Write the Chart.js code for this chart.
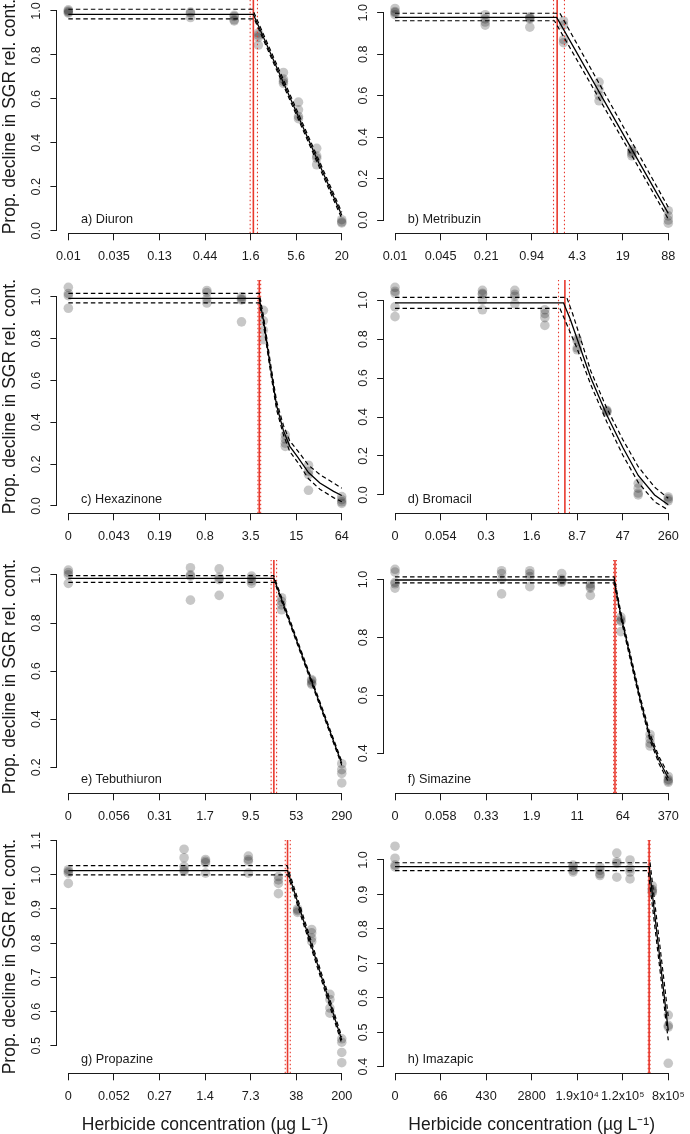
<!DOCTYPE html>
<html><head><meta charset="utf-8">
<script src="https://cdn.jsdelivr.net/npm/chart.js@4/dist/chart.umd.min.js"></script>
<style>
html,body{margin:0;padding:0;background:#fff;}
body{position:relative;width:690px;height:1134px;overflow:hidden;font-family:"Liberation Sans",Arial,Helvetica,sans-serif;}
canvas{position:absolute;}
.lab{position:absolute;font-size:12.7px;color:#1a1a1a;line-height:16px;white-space:nowrap;transform:translateY(-50%);}
</style></head><body>
<script>
// ---------- a) Diuron ----------
const diuronTicks = ['0.01','0.035','0.13','0.44','1.6','5.6','20'];
const diuronDose = [0, 2.68, 3.64, 4.17, 4.72, 5.05, 5.45, 6];
const diuronResp = [[1.005,1.0,0.995,0.99],[0.995,0.99,0.97],[0.98,0.975,0.96,0.955],[0.90,0.89,0.88,0.845],[0.72,0.69,0.68,0.67],[0.585,0.55,0.52,0.51],[0.375,0.34,0.33,0.30],[0.05,0.04,0.035]];
const diuronFitX = [0, 4.06, 6];  const diuronFitY = [0.985, 0.985, 0.07];
const diuronUpX = [0, 4.04, 6];   const diuronUpY = [1.008, 1.008, 0.084];
const diuronLoX = [0, 4.08, 6];   const diuronLoY = [0.964, 0.964, 0.056];
const diuronEC = [4.06, 3.99, 4.15];
const diuronYTicks = [0, 0.2, 0.4, 0.6, 0.8, 1.0];

// ---------- b) Metribuzin ----------
const metribuzinTicks = ['0.01','0.045','0.21','0.94','4.3','19','88'];
const metribuzinDose = [0, 1.98, 2.96, 3.7, 4.48, 5.2, 6];
const metribuzinResp = [[1.02,1.005,1.0,0.99],[0.99,0.97,0.955,0.94],[0.98,0.975,0.97,0.93],[0.96,0.94,0.87,0.855],[0.665,0.63,0.6,0.575],[0.34,0.33,0.32,0.31],[0.045,0.02,0.0,-0.015]];
const metribuzinFitX = [0, 3.55, 6]; const metribuzinFitY = [0.977, 0.977, 0.032];
const metribuzinUpX = [0, 3.62, 6];  const metribuzinUpY = [0.997, 0.997, 0.062];
const metribuzinLoX = [0, 3.5, 6];   const metribuzinLoY = [0.961, 0.961, 0.005];
const metribuzinEC = [3.56, 3.48, 3.72];
const metribuzinYTicks = [0, 0.2, 0.4, 0.6, 0.8, 1.0];

// ---------- c) Hexazinone ----------
const hexazinoneTicks = ['0','0.043','0.19','0.8','3.5','15','64'];
const hexazinoneDose = [0, 3.04, 3.8, 4.28, 4.76, 5.27, 6];
const hexazinoneResp = [[1.045,1.015,1.005,0.945],[1.03,1.02,0.99,0.97],[1.0,0.99,0.985,0.88],[0.935,0.885,0.84,0.795],[0.34,0.32,0.3,0.285],[0.195,0.165,0.15,0.075],[0.045,0.03,0.02,0.012]];
const hexazinoneFitX = [0, 4.19, 4.28, 4.43, 4.57, 4.72, 4.86, 5.03, 5.27, 5.52, 5.82, 6];
const hexazinoneFitY = [0.992, 0.992, 0.89, 0.67, 0.48, 0.36, 0.285, 0.235, 0.16, 0.11, 0.07, 0.05];
const hexazinoneUpX = hexazinoneFitX;
const hexazinoneUpY = [1.016, 1.016, 0.91, 0.69, 0.50, 0.385, 0.31, 0.265, 0.195, 0.15, 0.11, 0.085];
const hexazinoneLoX = hexazinoneFitX;
const hexazinoneLoY = [0.971, 0.971, 0.87, 0.65, 0.46, 0.34, 0.26, 0.21, 0.13, 0.08, 0.04, 0.02];
const hexazinoneEC = [4.19, 4.16, 4.22];
const hexazinoneYTicks = [0, 0.2, 0.4, 0.6, 0.8, 1.0];

// ---------- d) Bromacil ----------
const bromacilTicks = ['0','0.054','0.3','1.6','8.7','47','260'];
const bromacilDose = [0, 1.92, 2.63, 3.29, 4.0, 4.65, 5.34, 6];
const bromacilResp = [[1.065,1.045,1.035,0.965,0.915],[1.05,1.035,1.03,1.0,0.95],[1.05,1.03,1.02,0.98],[0.95,0.93,0.91,0.87],[0.8,0.79,0.755,0.745],[0.435,0.43,0.425],[0.06,0.035,0.01,0.0],[-0.01,-0.02,-0.03]];
const bromacilFitX = [0, 3.7, 3.85, 4.03, 4.3, 4.65, 5.0, 5.34, 5.7, 6];
const bromacilFitY = [0.986, 0.986, 0.9, 0.78, 0.6, 0.41, 0.245, 0.1, 0.0, -0.05];
const bromacilUpX = [0, 3.77, 3.9, 4.05, 4.3, 4.65, 5.0, 5.34, 5.7, 6];
const bromacilUpY = [1.014, 1.014, 0.93, 0.82, 0.635, 0.445, 0.285, 0.145, 0.04, -0.017];
const bromacilLoX = [0, 3.62, 3.8, 4.0, 4.3, 4.65, 5.0, 5.34, 5.7, 6];
const bromacilLoY = [0.957, 0.957, 0.86, 0.75, 0.565, 0.375, 0.205, 0.065, -0.035, -0.077];
const bromacilEC = [3.73, 3.59, 3.83];
const bromacilYTicks = [0, 0.2, 0.4, 0.6, 0.8, 1.0];

// ---------- e) Tebuthiuron ----------
const tebuthiuronTicks = ['0','0.056','0.31','1.7','9.5','53','290'];
const tebuthiuronDose = [0, 2.68, 3.31, 4.02, 4.68, 5.34, 6];
const tebuthiuronResp = [[1.02,1.01,1.0,0.965],[1.03,1.0,0.995,0.895],[1.025,0.99,0.98,0.915],[0.995,0.985,0.975,0.965],[0.905,0.89,0.875,0.855],[0.565,0.56,0.55,0.545],[0.215,0.19,0.175,0.135]];
const tebuthiuronFitX = [0, 4.51, 6]; const tebuthiuronFitY = [0.986, 0.986, 0.216];
const tebuthiuronUpX = [0, 4.505, 6]; const tebuthiuronUpY = [0.997, 0.997, 0.224];
const tebuthiuronLoX = [0, 4.527, 6]; const tebuthiuronLoY = [0.969, 0.969, 0.208];
const tebuthiuronEC = [4.51, 4.45, 4.57];
const tebuthiuronYTicks = [0.2, 0.4, 0.6, 0.8, 1.0];

// ---------- f) Simazine ----------
const simazineTicks = ['0','0.058','0.33','1.9','11','64','370'];
const simazineDose = [0, 2.34, 2.96, 3.66, 4.29, 4.96, 5.6, 6];
const simazineResp = [[1.035,1.025,0.99,0.985,0.97],[1.03,1.02,1.0,0.95],[1.03,1.02,1.01,0.975],[1.02,1.0,0.995,0.99],[0.985,0.975,0.97,0.945],[0.87,0.86,0.855,0.82],[0.465,0.45,0.435,0.425],[0.32,0.31,0.305,0.3]];
const simazineFitX = [0, 4.81, 4.96, 5.2, 5.4, 5.6, 5.8, 6];
const simazineFitY = [0.998, 0.998, 0.875, 0.71, 0.575, 0.455, 0.375, 0.315];
const simazineUpX = simazineFitX;
const simazineUpY = [1.009, 1.009, 0.885, 0.72, 0.585, 0.466, 0.387, 0.328];
const simazineLoX = simazineFitX;
const simazineLoY = [0.988, 0.988, 0.865, 0.70, 0.565, 0.444, 0.363, 0.302];
const simazineEC = [4.83, 4.80, 4.86];
const simazineYTicks = [0.4, 0.6, 0.8, 1.0];

// ---------- g) Propazine ----------
const propazineTicks = ['0','0.052','0.27','1.4','7.3','38','200'];
const propazineDose = [0, 2.54, 3.01, 3.95, 4.61, 5.03, 5.34, 5.74, 6];
const propazineResp = [[1.015,1.01,1.005,0.975],[1.075,1.05,1.025,1.015,1.01],[1.045,1.04,1.035,1.005],[1.055,1.045,1.04,1.005],[0.995,0.985,0.975,0.945],[0.9,0.895,0.89],[0.84,0.83,0.815,0.805],[0.65,0.635,0.61,0.595],[0.52,0.51,0.48,0.45]];
const propazineFitX = [0, 4.81, 6]; const propazineFitY = [1.0126, 1.0126, 0.516];
const propazineUpX = [0, 4.80, 6];  const propazineUpY = [1.027, 1.027, 0.526];
const propazineLoX = [0, 4.816, 6]; const propazineLoY = [1.0, 1.0, 0.506];
const propazineEC = [4.81, 4.76, 4.87];
const propazineYTicks = [0.5, 0.6, 0.7, 0.8, 0.9, 1.0, 1.1];

// ---------- h) Imazapic ----------
const imazapicTicks = ['0','66','430','2800','1.9x10\u2074','1.2x10\u2075','8x10\u2075'];
const imazapicDose = [0, 3.91, 4.5, 4.87, 5.16, 5.65, 6];
const imazapicResp = [[1.04,1.005,0.985,0.98],[0.985,0.98,0.97,0.965],[0.98,0.97,0.96,0.955],[1.02,0.995,0.99,0.95],[1.0,0.975,0.965,0.945],[0.925,0.915,0.91,0.905],[0.55,0.52,0.515,0.41]];
const imazapicFitX = [0, 5.58, 6]; const imazapicFitY = [0.981, 0.981, 0.505];
const imazapicUpX = [0, 5.6, 6];   const imazapicUpY = [0.992, 0.992, 0.545];
const imazapicLoX = [0, 5.56, 6];  const imazapicLoY = [0.969, 0.969, 0.477];
const imazapicEC = [5.58, 5.56, 5.60];
const imazapicYTicks = [0.4, 0.5, 0.6, 0.7, 0.8, 0.9, 1.0];

// y-axis range of each plot region (R style, data range + 4%)
const yRanges = [[-0.012,1.05],[-0.064,1.061],[-0.035,1.080],[-0.094,1.103],[0.092,1.062],[0.262,1.067],[0.419,1.102],[0.381,1.058]];
const panelNames = ['a) Diuron','b) Metribuzin','c) Hexazinone','d) Bromacil','e) Tebuthiuron','f) Simazine','g) Propazine','h) Imazapic'];
const yTitle = 'Prop. decline in SGR rel. cont.';
const xTitle = 'Herbicide concentration (\u00B5g L\u207B\u00B9)';

const panels = [
  [diuronTicks, diuronDose, diuronResp, diuronFitX, diuronFitY, diuronUpX, diuronUpY, diuronLoX, diuronLoY, diuronEC, diuronYTicks],
  [metribuzinTicks, metribuzinDose, metribuzinResp, metribuzinFitX, metribuzinFitY, metribuzinUpX, metribuzinUpY, metribuzinLoX, metribuzinLoY, metribuzinEC, metribuzinYTicks],
  [hexazinoneTicks, hexazinoneDose, hexazinoneResp, hexazinoneFitX, hexazinoneFitY, hexazinoneUpX, hexazinoneUpY, hexazinoneLoX, hexazinoneLoY, hexazinoneEC, hexazinoneYTicks],
  [bromacilTicks, bromacilDose, bromacilResp, bromacilFitX, bromacilFitY, bromacilUpX, bromacilUpY, bromacilLoX, bromacilLoY, bromacilEC, bromacilYTicks],
  [tebuthiuronTicks, tebuthiuronDose, tebuthiuronResp, tebuthiuronFitX, tebuthiuronFitY, tebuthiuronUpX, tebuthiuronUpY, tebuthiuronLoX, tebuthiuronLoY, tebuthiuronEC, tebuthiuronYTicks],
  [simazineTicks, simazineDose, simazineResp, simazineFitX, simazineFitY, simazineUpX, simazineUpY, simazineLoX, simazineLoY, simazineEC, simazineYTicks],
  [propazineTicks, propazineDose, propazineResp, propazineFitX, propazineFitY, propazineUpX, propazineUpY, propazineLoX, propazineLoY, propazineEC, propazineYTicks],
  [imazapicTicks, imazapicDose, imazapicResp, imazapicFitX, imazapicFitY, imazapicUpX, imazapicUpY, imazapicLoX, imazapicLoY, imazapicEC, imazapicYTicks]
];

const FONT = '"Liberation Sans", Arial, Helvetica, sans-serif';
const INK = '#1a1a1a';
const RED = '#e8392d';

function pts(dose, resp) { const out = []; dose.forEach((x, i) => resp[i].forEach(y => out.push({x, y}))); return out; }
function line(xs, ys) { return xs.map((x, i) => ({x, y: ys[i]})); }
function al(v) { return Math.round(v - 0.5) + 0.5; }

const axisLines = {
  id: 'axisLines',
  afterDraw(chart) {
    const {ctx, chartArea, scales: {x, y}} = chart;
    const xt = x.ticks, yt = y.ticks;
    ctx.save();
    ctx.strokeStyle = INK; ctx.lineWidth = 1;
    ctx.beginPath();
    const by = Math.round(chartArea.bottom) + 0.5;
    ctx.moveTo(al(x.getPixelForValue(xt[0].value)), by);
    ctx.lineTo(al(x.getPixelForValue(xt[xt.length - 1].value)), by);
    const lx = Math.round(chartArea.left) - 0.5;
    ctx.moveTo(lx, al(y.getPixelForValue(yt[0].value)));
    ctx.lineTo(lx, al(y.getPixelForValue(yt[yt.length - 1].value)));
    ctx.stroke();
    ctx.restore();
  }
};

panels.forEach((p, idx) => {
  const [xTicks, dose, resp, fitX, fitY, upX, upY, loX, loY, ec, yTicks] = p;
  const yr = yRanges[idx];
  const col = idx % 2, row = Math.floor(idx / 2);
  const canvasLeft = col ? 345 : 0, canvasW = 360;
  const rowTop = row * 280, canvasTop = rowTop - 10, canvasH = 310;
  const plotLeft = col ? 384.1 : 57.4, plotRight = col ? 679.2 : 352.7;
  const plotTop = rowTop, plotBottom = rowTop + 233.3;
  const xH = row === 3 ? 62.2 : 40;

  const cv = document.createElement('canvas');
  cv.width = canvasW; cv.height = canvasH;
  cv.style.left = canvasLeft + 'px'; cv.style.top = canvasTop + 'px';
  cv.style.width = canvasW + 'px'; cv.style.height = canvasH + 'px';
  document.body.appendChild(cv);

  const lab = document.createElement('div');
  lab.className = 'lab';
  lab.textContent = panelNames[idx];
  lab.style.left = (col ? 407.7 : 81) + 'px';
  lab.style.top = (rowTop + 219) + 'px';
  document.body.appendChild(lab);

  const vline = (xv) => [{x: xv, y: yr[0]}, {x: xv, y: yr[1]}];
  const datasets = [
    {data: line(fitX, fitY), showLine: true, borderColor: '#000', borderWidth: 1.3, pointRadius: 0, order: 1, clip: false},
    {data: line(upX, upY), showLine: true, borderColor: '#000', borderWidth: 1.2, borderDash: [4.5, 3], pointRadius: 0, order: 1, clip: false},
    {data: line(loX, loY), showLine: true, borderColor: '#000', borderWidth: 1.2, borderDash: [4.5, 3], pointRadius: 0, order: 1, clip: false},
    {data: vline(ec[0]), showLine: true, borderColor: RED, borderWidth: 1.6, pointRadius: 0, order: 2},
    {data: vline(ec[1]), showLine: true, borderColor: RED, borderWidth: 1.1, borderDash: [1.5, 2.5], pointRadius: 0, order: 2},
    {data: vline(ec[2]), showLine: true, borderColor: RED, borderWidth: 1.1, borderDash: [1.5, 2.5], pointRadius: 0, order: 2},
    {data: pts(dose, resp), backgroundColor: 'rgba(0,0,0,0.22)', borderWidth: 0, pointRadius: 4.8, order: 3, clip: false}
  ];

  new Chart(cv, {
    type: 'scatter',
    data: {datasets},
    options: {
      responsive: false, animation: false, devicePixelRatio: 1, events: [],
      layout: {padding: {left: 0, top: plotTop - canvasTop, right: canvasLeft + canvasW - plotRight, bottom: canvasTop + canvasH - plotBottom - xH}},
      plugins: {legend: {display: false}, tooltip: {enabled: false}},
      scales: {
        x: {
          type: 'linear', position: 'bottom', min: -0.24, max: 6.24, bounds: 'data',
          afterBuildTicks: s => { s.ticks = xTicks.map((t, i) => ({value: i})); },
          afterFit: s => { s.height = xH; s.paddingLeft = 0; s.paddingRight = 0; s.paddingTop = 0; s.paddingBottom = 0; },
          ticks: {autoSkip: false, maxRotation: 0, minRotation: 0, padding: 8.8, color: INK,
                  font: {family: FONT, size: 12.7}, callback: v => xTicks[Math.round(v)]},
          grid: {display: true, drawOnChartArea: false, drawTicks: true, tickLength: 7, color: INK, lineWidth: 1},
          border: {display: false},
          title: {display: row === 3, text: xTitle, color: INK, font: {family: FONT, size: 17.5}, padding: 0}
        },
        y: {
          type: 'linear', position: 'left', min: yr[0], max: yr[1], bounds: 'data',
          afterBuildTicks: s => { s.ticks = yTicks.map(v => ({value: v})); },
          afterFit: s => { s.width = plotLeft - canvasLeft; s.paddingLeft = 0; s.paddingRight = 0; s.paddingTop = 0; s.paddingBottom = 0; },
          ticks: {autoSkip: false, minRotation: 90, maxRotation: 90, padding: 14, labelOffset: -8.8, color: INK,
                  font: {family: FONT, size: 12.7}, callback: v => v.toFixed(1)},
          grid: {display: true, drawOnChartArea: false, drawTicks: true, tickLength: 7, color: INK, lineWidth: 1},
          border: {display: false},
          title: {display: col === 0, text: yTitle, color: INK, font: {family: FONT, size: 17.5}, padding: 0}
        }
      }
    },
    plugins: [axisLines]
  });
});
</script>
</body></html>
